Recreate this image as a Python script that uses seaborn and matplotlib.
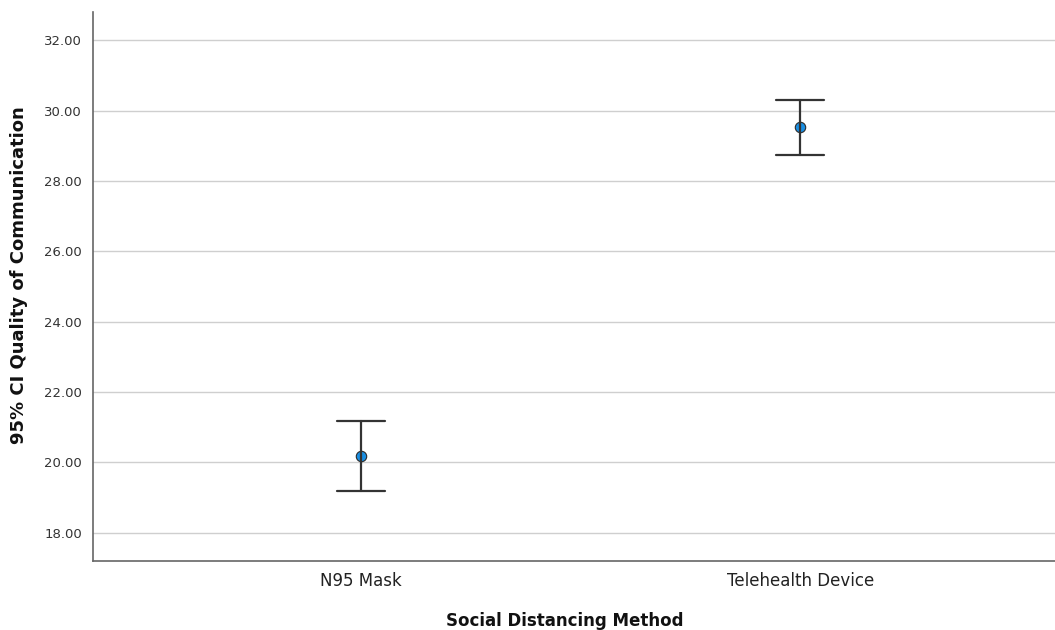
import matplotlib
matplotlib.use("Agg")
import matplotlib.pyplot as plt
import seaborn as sns
import pandas as pd

# Group means and 95% confidence limits
methods = ["N95 Mask", "Telehealth Device"]
means = [20.18, 29.52]
ci_lower = [19.20, 28.74]
ci_upper = [21.18, 30.31]
y_ticks = [18, 20, 22, 24, 26, 28, 30, 32]

# Long table: each group holds its lower limit, mean and upper limit,
# so the median is the mean and min/max give the interval
rows = []
for m, lo, mu, hi in zip(methods, ci_lower, means, ci_upper):
    for v in (lo, mu, hi):
        rows.append({"method": m, "value": v})
df = pd.DataFrame(rows)

sns.set_theme(style="white")
plt.rcParams["font.family"] = ["DejaVu Sans"]

fig = plt.figure(figsize=(10.55, 6.3), dpi=100)
ax = fig.add_axes([0.0882, 0.1095, 0.9118, 0.8715])

ax.yaxis.grid(True, color="#cfcfcf", linewidth=1.0)
ax.set_axisbelow(True)

sns.pointplot(
    data=df, x="method", y="value", order=methods,
    estimator="median", errorbar=lambda x: (x.min(), x.max()),
    linestyle="none", capsize=0.11, color="#1a8fe3",
    markers="o", markersize=7.5, markeredgecolor="#2a2a2a",
    markeredgewidth=0.8,
    err_kws={"color": "#333333", "linewidth": 1.6},
    ax=ax, zorder=3,
)
# keep the marker fill bright blue
for line in ax.lines:
    if line.get_marker() == "o":
        line.set_markerfacecolor("#1a8fe3")

ax.set_xlim(-0.61, 1.58)
ax.set_ylim(17.2, 32.8)
ax.set_yticks(y_ticks)
ax.set_yticklabels([f"{t:.2f}" for t in y_ticks])

for s in ("top", "right"):
    ax.spines[s].set_visible(False)
for s in ("left", "bottom"):
    ax.spines[s].set_color("#666666")
    ax.spines[s].set_linewidth(1.2)

ax.tick_params(axis="y", length=0, labelsize=9.5, labelcolor="#333333", pad=8)
ax.tick_params(axis="x", length=0, labelsize=12, labelcolor="#222222", pad=8)

ax.set_xlabel("Social Distancing Method", fontsize=12, fontweight="bold",
              color="#111111")
ax.set_ylabel("95% CI Quality of Communication", fontsize=13,
              fontweight="bold", color="#111111")
ax.xaxis.set_label_coords(0.49, -0.092)
ax.yaxis.set_label_coords(-0.068, 0.521)

fig.savefig("out.png", dpi=100)
